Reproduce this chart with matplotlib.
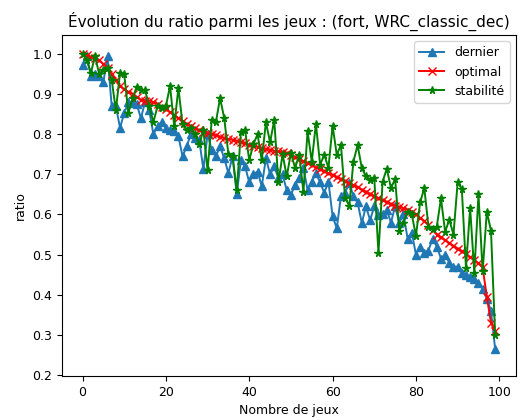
import matplotlib
matplotlib.use("Agg")
import matplotlib.pyplot as plt

plt.rcParams["font.size"] = 9
plt.rcParams["lines.markersize"] = 5.5
plt.rcParams["lines.linewidth"] = 1.4

jeux = list(range(100))

dernier = [
    0.973, 0.995, 0.946, 0.95, 0.946, 0.93, 0.994, 0.87, 0.87, 0.816,
    0.853, 0.88, 0.878, 0.875, 0.84, 0.88, 0.86, 0.80, 0.82, 0.83,
    0.816, 0.81, 0.807, 0.795, 0.745, 0.77, 0.80, 0.79, 0.785, 0.713,
    0.80, 0.76, 0.745, 0.77, 0.74, 0.703, 0.745, 0.65, 0.735, 0.72,
    0.68, 0.70, 0.707, 0.67, 0.74, 0.70, 0.72, 0.69, 0.70, 0.66,
    0.649, 0.674, 0.69, 0.716, 0.661, 0.682, 0.703, 0.68, 0.654, 0.682,
    0.595, 0.566, 0.645, 0.654, 0.679, 0.645, 0.63, 0.579, 0.62, 0.586,
    0.62, 0.599, 0.60, 0.611, 0.58, 0.62, 0.58, 0.60, 0.54, 0.555,
    0.50, 0.52, 0.504, 0.51, 0.54, 0.52, 0.49, 0.50, 0.48, 0.47,
    0.47, 0.455, 0.45, 0.445, 0.44, 0.43, 0.415, 0.39, 0.36, 0.265,
]

optimal = [
    1.0, 0.997, 0.993, 0.99, 0.985, 0.975, 0.965, 0.95, 0.935, 0.92,
    0.912, 0.906, 0.9, 0.893, 0.886, 0.884, 0.882, 0.88, 0.875, 0.869,
    0.862, 0.855, 0.848, 0.84, 0.832, 0.826, 0.82, 0.815, 0.81, 0.806,
    0.803, 0.8, 0.797, 0.794, 0.791, 0.788, 0.786, 0.783, 0.78, 0.777,
    0.774, 0.771, 0.768, 0.765, 0.763, 0.761, 0.759, 0.757, 0.755, 0.752,
    0.748, 0.743, 0.738, 0.733, 0.728, 0.723, 0.718, 0.713, 0.708, 0.703,
    0.698, 0.693, 0.688, 0.683, 0.678, 0.673, 0.668, 0.662, 0.657, 0.651,
    0.646, 0.641, 0.636, 0.631, 0.626, 0.622, 0.619, 0.616, 0.612, 0.607,
    0.6, 0.592, 0.584, 0.574, 0.562, 0.55, 0.543, 0.536, 0.529, 0.522,
    0.515, 0.508, 0.501, 0.494, 0.487, 0.478, 0.468, 0.395, 0.33, 0.31,
]

stabilite = [
    1.0, 0.985, 0.953, 0.994, 0.95, 0.96, 0.966, 0.935, 0.86, 0.953,
    0.95, 0.853, 0.89, 0.918, 0.91, 0.91, 0.87, 0.83, 0.87, 0.865,
    0.87, 0.92, 0.82, 0.915, 0.825, 0.81, 0.815, 0.80, 0.775, 0.81,
    0.71, 0.835, 0.83, 0.89, 0.84, 0.75, 0.745, 0.66, 0.805, 0.81,
    0.735, 0.775, 0.80, 0.735, 0.83, 0.78, 0.835, 0.68, 0.75, 0.695,
    0.753, 0.716, 0.749, 0.657, 0.807, 0.732, 0.826, 0.724, 0.749, 0.716,
    0.821, 0.749, 0.773, 0.641, 0.622, 0.732, 0.773, 0.716, 0.695, 0.686,
    0.69, 0.504, 0.682, 0.714, 0.666, 0.688, 0.56, 0.58, 0.607, 0.60,
    0.547, 0.63, 0.666, 0.57, 0.565, 0.57, 0.64, 0.557, 0.587, 0.55,
    0.68, 0.664, 0.467, 0.616, 0.455, 0.65, 0.458, 0.607, 0.56, 0.30,
]

fig, ax = plt.subplots(figsize=(5.29, 4.18), dpi=100)
fig.subplots_adjust(left=0.117, right=0.975, top=0.916, bottom=0.101)

ax.plot(jeux, dernier, marker="^", label="dernier")
ax.plot(jeux, optimal, marker="x", color="red", label="optimal")
ax.plot(jeux, stabilite, marker="*", color="green", label="stabilité")

ax.set_ylim(0.198, 1.047)
ax.set_xlabel("Nombre de jeux")
ax.set_ylabel("ratio")
ax.set_title("Évolution du ratio parmi les jeux : (fort, WRC_classic_dec)", fontsize=11)
ax.legend(loc="upper right")

fig.savefig("out.png")
